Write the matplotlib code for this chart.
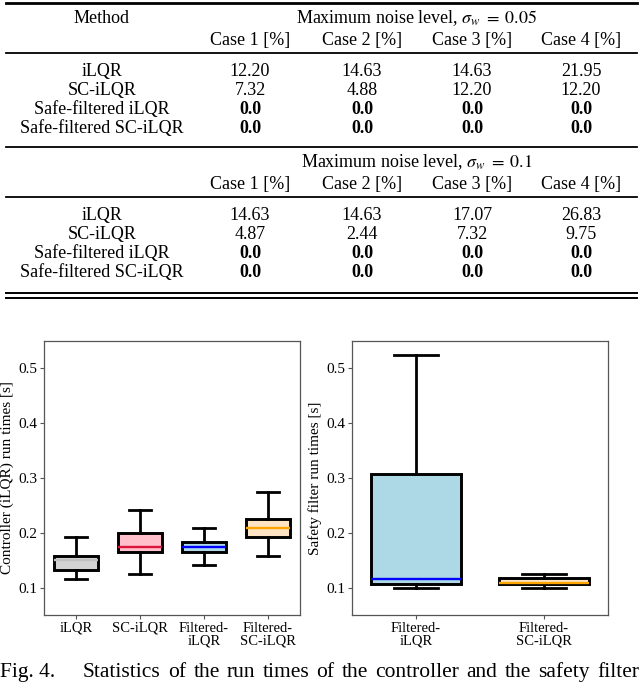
import matplotlib
matplotlib.use("Agg")
import matplotlib.pyplot as plt
from matplotlib.lines import Line2D

# ---- table data (collision rates, %) ----
methods = ["iLQR", "SC-iLQR", "Safe-filtered iLQR", "Safe-filtered SC-iLQR"]
cases = ["Case 1 [%]", "Case 2 [%]", "Case 3 [%]", "Case 4 [%]"]
noise_titles = [r"Maximum noise level, $\sigma_w\;=\;0.05$",
                r"Maximum noise level, $\sigma_w\;=\;0.1$"]
rates_005 = [["12.20", "14.63", "14.63", "21.95"],
             ["7.32", "4.88", "12.20", "12.20"],
             ["0.0", "0.0", "0.0", "0.0"],
             ["0.0", "0.0", "0.0", "0.0"]]
rates_01 = [["14.63", "14.63", "17.07", "26.83"],
            ["4.87", "2.44", "7.32", "9.75"],
            ["0.0", "0.0", "0.0", "0.0"],
            ["0.0", "0.0", "0.0", "0.0"]]
bold_rows = [2, 3]

# ---- box statistics [s] ----
ctrl_labels = ["iLQR", "SC-iLQR", "Filtered-\niLQR", "Filtered-\nSC-iLQR"]
ctrl_whislo = [0.116, 0.125, 0.141, 0.158]
ctrl_q1 = [0.132, 0.165, 0.165, 0.192]
ctrl_med = [0.151, 0.1745, 0.1745, 0.208]
ctrl_q3 = [0.158, 0.199, 0.183, 0.225]
ctrl_whishi = [0.192, 0.241, 0.208, 0.2745]

filt_labels = ["Filtered-\niLQR", "Filtered-\nSC-iLQR"]
filt_whislo = [0.100, 0.100]
filt_q1 = [0.107, 0.107]
filt_med = [0.116, 0.109]
filt_q3 = [0.307, 0.117]
filt_whishi = [0.524, 0.125]

ctrl_fill = ["lightgray", "pink", "lightblue", "bisque"]
ctrl_medc = ["silver", "crimson", "blue", "orange"]
filt_fill = ["lightblue", "bisque"]
filt_medc = ["blue", "orange"]

caption = "Statistics of the run times of the controller and the safety filter"

plt.rcParams["font.family"] = ["Liberation Serif", "DejaVu Serif"]
plt.rcParams["mathtext.fontset"] = "stix"

W, H = 640, 682
fig = plt.figure(figsize=(W / 100, H / 100), dpi=100)


def fx(x):
    return x / W


def fy(y):
    return 1 - y / H


def hline(y, lw, x0=6, x1=637):
    fig.add_artist(Line2D([fx(x0), fx(x1)], [fy(y), fy(y)], lw=lw, color="black",
                          transform=fig.transFigure))


# ---- table ----
col_x = [250, 362, 472, 581]
lab_x = 102
fs_tab = 13
for b, (title, rates) in enumerate([(noise_titles[0], rates_005), (noise_titles[1], rates_01)]):
    off = 144 * b
    hline(3 + off, 2.0 if b == 0 else 1.3)
    if b == 0:
        fig.text(fx(lab_x), fy(23), "Method", ha="center", va="baseline", fontsize=fs_tab)
    fig.text(fx(417), fy(23 + off), title, ha="center", va="baseline", fontsize=fs_tab)
    for j, c in enumerate(cases):
        fig.text(fx(col_x[j]), fy(45 + off), c, ha="center", va="baseline", fontsize=fs_tab)
    hline(53 + off, 1.3)
    for i, m in enumerate(methods):
        yb = 76 + 19 * i + off
        fig.text(fx(lab_x), fy(yb), m, ha="center", va="baseline", fontsize=fs_tab)
        for j in range(4):
            fig.text(fx(col_x[j]), fy(yb), rates[i][j], ha="center", va="baseline",
                     fontsize=fs_tab, fontweight="bold" if i in bold_rows else "normal")
hline(293, 1.4)
hline(298, 1.4)


# ---- box plots ----
def make_stats(labels, lo, q1, med, q3, hi):
    return [dict(label=l, whislo=a, q1=b, med=c, q3=d, whishi=e, fliers=[])
            for l, a, b, c, d, e in zip(labels, lo, q1, med, q3, hi)]


def draw_box(ax, stats, fills, medcs):
    bp = ax.bxp(stats, widths=0.7, patch_artist=True, showfliers=False,
                boxprops=dict(edgecolor="black", linewidth=2.1),
                whiskerprops=dict(color="black", linewidth=2.0),
                capprops=dict(color="black", linewidth=2.0),
                medianprops=dict(linewidth=1.7))
    for patch, c in zip(bp["boxes"], fills):
        patch.set_facecolor(c)
    for line, c in zip(bp["medians"], medcs):
        line.set_color(c)
    ax.set_ylim(0.05, 0.55)
    ax.set_yticks([0.1, 0.2, 0.3, 0.4, 0.5])
    for s in ax.spines.values():
        s.set_color("#555555")
        s.set_linewidth(0.9)
    ax.tick_params(labelsize=10.5, length=3, color="#555555", pad=2)
    ax.tick_params(axis="y", labelsize=11)


ax1 = fig.add_axes([fx(44), fy(615), 256 / W, 274 / H])
draw_box(ax1, make_stats(ctrl_labels, ctrl_whislo, ctrl_q1, ctrl_med, ctrl_q3, ctrl_whishi),
         ctrl_fill, ctrl_medc)
ax1.set_xlim(0.5, 4.5)
ax1.set_ylabel("Controller (iLQR) run times [s]", fontsize=11, labelpad=3)

ax2 = fig.add_axes([fx(352), fy(615), 256 / W, 274 / H])
draw_box(ax2, make_stats(filt_labels, filt_whislo, filt_q1, filt_med, filt_q3, filt_whishi),
         filt_fill, filt_medc)
ax2.set_xlim(0.5, 2.5)
ax2.set_ylabel("Safety filter run times [s]", fontsize=11, labelpad=3)

for ax in (ax1, ax2):
    for t in ax.get_xticklabels():
        t.set_linespacing(1.0)

# ---- caption (justified) ----
fs_cap = 15.5
cap_base = 677
fig.text(fx(0), fy(cap_base), "Fig. 4.", fontsize=fs_cap, va="baseline", ha="left")
words = caption.split()
renderer = fig.canvas.get_renderer()
objs = [fig.text(0, fy(cap_base), w, fontsize=fs_cap, va="baseline", ha="left") for w in words]
widths = [o.get_window_extent(renderer).width for o in objs]
x0, x1 = 83, 639
gap = (x1 - x0 - sum(widths)) / (len(words) - 1)
x = x0
for o, w in zip(objs, widths):
    o.set_x(fx(x))
    x += w + gap

fig.savefig("out.png", dpi=100)
